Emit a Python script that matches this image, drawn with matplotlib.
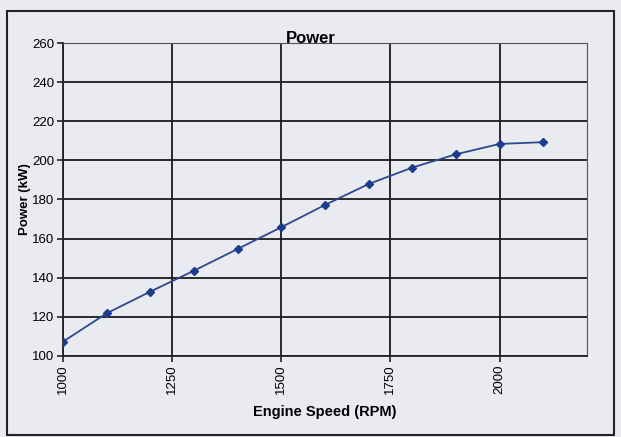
import numpy
from matplotlib import pyplot
from matplotlib.patches import Rectangle

speed = [1000, 1100, 1200, 1300, 1400, 1500, 1600, 1700, 1800, 1900, 2000, 2100]
power = [107.3, 121.8, 132.9, 143.6, 154.7, 165.8, 177.2, 187.9, 196.3, 203.1, 208.4, 209.3]
xticks = [1000, 1250, 1500, 1750, 2000]
yticks = numpy.arange(100, 261, 20)

bg = '#e9ebf1'

fig = pyplot.figure(figsize=(6.21, 4.37), dpi=100, facecolor=bg)
ax = fig.add_axes([0.1014, 0.1854, 0.8436, 0.7162])
ax.set_facecolor(bg)

# outer chart frame
fig.patches.append(Rectangle((7/621, 1 - 435/437), 607/621, 424/437,
        transform=fig.transFigure, fill=False, edgecolor='#222222', lw=1.5))

ax.plot(speed, power, color='#2a4a8e', lw=1.3, marker='D', ms=4,
        markerfacecolor='#1c3c8c', markeredgecolor='#1c3c8c', zorder=3)

ax.set_xlim(1000, 2200)
ax.set_ylim(100, 260)
ax.set_xticks(xticks)
ax.set_yticks(yticks)
ax.set_xticklabels([str(t) for t in xticks], rotation=90, fontsize=9.5,
        family='Liberation Sans')
ax.set_yticklabels([str(t) for t in yticks], fontsize=9.5, family='Liberation Sans')
ax.tick_params(axis='both', direction='out', length=4, width=1.2, pad=2,
        color='#222222')

ax.grid(True, color='#1a1a1a', lw=1.3, zorder=1)
ax.set_axisbelow(True)

for side in ['left', 'bottom']:
    ax.spines[side].set_color('#222222')
    ax.spines[side].set_linewidth(1.3)
for side in ['top', 'right']:
    ax.spines[side].set_color('#555555')
    ax.spines[side].set_linewidth(0.8)

ax.text(0.473, 0.99, 'Power', transform=ax.transAxes, ha='center', va='bottom',
        fontsize=12, fontweight='bold', family='Liberation Sans', zorder=5)
ax.set_xlabel('Engine Speed (RPM)', fontsize=10.5, fontweight='bold',
        family='Liberation Sans', labelpad=8)
ax.set_ylabel('Power (kW)', fontsize=9.5, fontweight='bold',
        family='Liberation Sans', labelpad=1)

pyplot.savefig('out.png', facecolor=bg)
